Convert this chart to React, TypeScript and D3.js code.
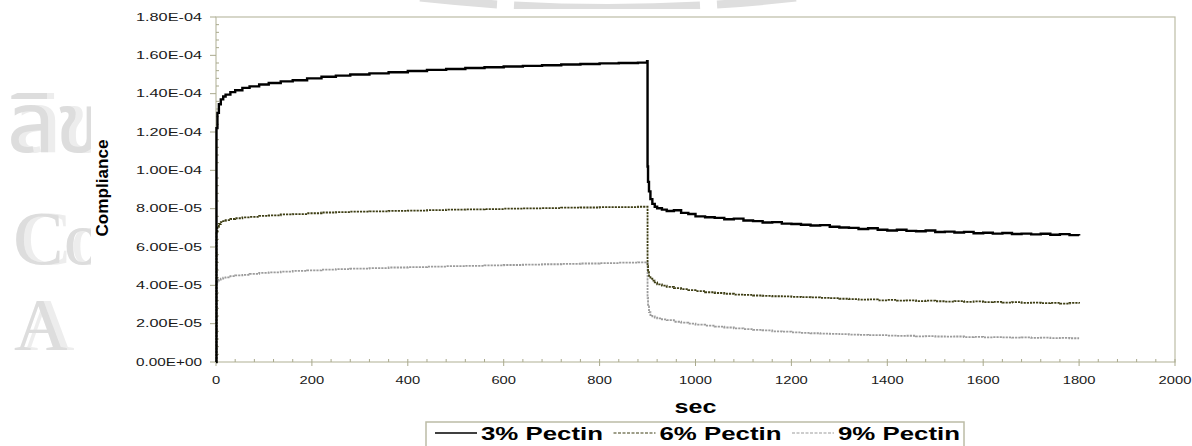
import React from 'react';
import * as d3 from 'd3';

// ---- data (values in units of 1e-5) ----
const VALUE_UNIT = 1e-5;
const TIMES = [
  0, 1, 3, 6, 10, 15, 20, 30, 40, 55, 70, 90, 110, 135, 160, 190, 220, 250, 280, 320,
  360, 400, 440, 480, 520, 560, 600, 640, 680, 720, 760, 800, 840, 880, 899,
  900, 901, 903, 906, 910, 915, 920, 930, 940, 955, 970, 985, 1000,
  1020, 1040, 1060, 1080, 1100, 1120, 1140, 1160, 1180, 1200, 1220, 1240, 1260, 1280, 1300,
  1320, 1340, 1360, 1380, 1400, 1420, 1440, 1460, 1480, 1500, 1520, 1540, 1560, 1580, 1600,
  1620, 1640, 1660, 1680, 1700, 1720, 1740, 1760, 1780, 1800,
];
const PECTIN_3 = [
  0, 12.2, 13.0, 13.45, 13.7, 13.85, 13.95, 14.08, 14.18, 14.3,
  14.38, 14.48, 14.56, 14.64, 14.7, 14.8, 14.88, 14.94, 15.0, 15.06,
  15.12, 15.18, 15.24, 15.29, 15.34, 15.38, 15.42, 15.45, 15.48, 15.52,
  15.55, 15.58, 15.6, 15.62, 15.7,
  10.2, 9.4, 8.9, 8.5, 8.25, 8.1, 8.02, 7.95, 7.88, 7.92, 7.78, 7.72, 7.6,
  7.55, 7.52, 7.45, 7.48, 7.38, 7.35, 7.28, 7.3, 7.22, 7.2,
  7.16, 7.12, 7.14, 7.06, 7.02, 7.0, 6.94, 6.98, 6.9, 6.86,
  6.9, 6.84, 6.82, 6.86, 6.78, 6.8, 6.76, 6.79, 6.72, 6.74,
  6.7, 6.73, 6.68, 6.7, 6.66, 6.69, 6.64, 6.67, 6.62, 6.6,
];
const PECTIN_6 = [
  0, 6.8, 7.05, 7.2, 7.3, 7.35, 7.4, 7.46, 7.5, 7.55,
  7.57, 7.62, 7.65, 7.7, 7.72, 7.76, 7.8, 7.82, 7.85, 7.86,
  7.88, 7.9, 7.92, 7.95, 7.96, 7.98, 8.0, 8.02, 8.03, 8.05,
  8.06, 8.08, 8.08, 8.1, 8.1,
  5.0, 4.75, 4.5, 4.35, 4.25, 4.15, 4.05, 3.98, 3.92, 3.85, 3.8, 3.75, 3.7,
  3.64, 3.6, 3.56, 3.52, 3.5, 3.47, 3.45, 3.43, 3.42, 3.4,
  3.38, 3.37, 3.35, 3.33, 3.3, 3.28, 3.25, 3.27, 3.22, 3.24,
  3.2, 3.22, 3.18, 3.2, 3.17, 3.15, 3.18, 3.14, 3.16, 3.12,
  3.14, 3.1, 3.12, 3.08, 3.1, 3.07, 3.09, 3.05, 3.08, 3.05,
];
const PECTIN_9 = [
  0, 4.15, 4.25, 4.3, 4.35, 4.4, 4.42, 4.48, 4.52, 4.55,
  4.6, 4.65, 4.68, 4.72, 4.75, 4.78, 4.82, 4.85, 4.87, 4.9,
  4.93, 4.95, 4.98, 5.0, 5.02, 5.04, 5.06, 5.08, 5.1, 5.12,
  5.14, 5.16, 5.18, 5.2, 5.2,
  3.35, 2.9, 2.6, 2.45, 2.38, 2.32, 2.28, 2.22, 2.18, 2.1, 2.05, 2.0, 1.95,
  1.9, 1.85, 1.8, 1.75, 1.72, 1.68, 1.65, 1.6, 1.58, 1.55,
  1.52, 1.5, 1.48, 1.47, 1.45, 1.43, 1.42, 1.4, 1.4, 1.38,
  1.36, 1.37, 1.34, 1.35, 1.33, 1.32, 1.33, 1.3, 1.31, 1.29,
  1.3, 1.28, 1.27, 1.28, 1.26, 1.27, 1.25, 1.26, 1.24, 1.24,
];
const SERIES_NAMES = ['3% Pectin', '6% Pectin', '9% Pectin'];
const Y_TICKS = [0, 2e-5, 4e-5, 6e-5, 8e-5, 1e-4, 1.2e-4, 1.4e-4, 1.6e-4, 1.8e-4];
const X_TICKS = [0, 200, 400, 600, 800, 1000, 1200, 1400, 1600, 1800, 2000];
const X_LABEL = 'sec';
const Y_LABEL = 'Compliance';
const WATERMARK_LINES = ['ลิข', 'Co', 'A'];

// ---- styles ----
const W = 1192;
const H = 446;
const M = { left: 216, right: 1175, top: 17, bottom: 362 };
const FRAME = '#bcbca6';
const TICK = '#a9a98c';
const STYLES = [
  { color: '#000000', width: 2.4, dash: undefined as string | undefined },
  { color: '#3e3e14', width: 1.8, dash: '2.2 1' },
  { color: '#9c9c9c', width: 1.8, dash: '2.2 1' },
];
const FONT = '"Liberation Sans", Arial, sans-serif';

function fmtSci(v: number): string {
  if (v === 0) return '0.00E+00';
  const e = Math.floor(Math.log10(v) + 1e-9);
  const m = v / Math.pow(10, e);
  return m.toFixed(2) + 'E' + (e < 0 ? '-' : '+') + String(Math.abs(e)).padStart(2, '0');
}

// decorative watermark ring (bottom arc of a large circle)
function ringArc(x1: number, x2: number): string {
  const cx = 608, cy = -1700, r = 1708;
  const yAt = (xx: number) => cy + Math.sqrt(r * r - (xx - cx) * (xx - cx));
  return `M${x1},${yAt(x1)} A${r},${r} 0 0 0 ${x2},${yAt(x2)}`;
}

export default function App() {
  const x = d3.scaleLinear().domain([0, 2000]).range([M.left, M.right]);
  const y = d3.scaleLinear().domain([0, 1.8e-4]).range([M.bottom, M.top]);
  const seriesVals = [PECTIN_3, PECTIN_6, PECTIN_9];
  const line = d3
    .line<[number, number]>()
    .x((d) => x(d[0]))
    .y((d) => y(d[1]))
    .curve(d3.curveStepAfter);

  const xMinor = d3.range(0, 2000, 40).filter((t) => t % 200 !== 0);
  const yMinor = d3.range(0, 45).map((i) => i * 4e-6).filter((_, i) => i % 5 !== 0);

  const legendX0 = 435;
  const legendStep = 178.5;

  const wmPos = [
    { x: 7, y: 152, size: 84, family: '"Noto Sans Thai", "DejaVu Sans", sans-serif' },
    { x: 13, y: 264, size: 76, family: '"Liberation Serif", serif' },
    { x: 14, y: 350, size: 74, family: '"Liberation Serif", serif' },
  ];

  return (
    <svg
      width={W}
      height={H}
      style={{ position: 'absolute', left: 0, top: 0, background: '#fff' }}
    >
      <defs>
        <clipPath id="wm">
          <rect x={0} y={0} width={91} height={H} />
          <rect x={0} y={0} width={W} height={9} />
        </clipPath>
        <filter id="wmShadow" x="-20%" y="-20%" width="160%" height="140%">
          <feOffset in="SourceAlpha" dx={7} dy={0} result="off" />
          <feFlood floodColor="#ededed" result="fl" />
          <feComposite in="fl" in2="off" operator="in" result="sh" />
          <feMerge>
            <feMergeNode in="sh" />
            <feMergeNode in="SourceGraphic" />
          </feMerge>
        </filter>
      </defs>
      {/* watermark */}
      <g clipPath="url(#wm)">
        {[[420, 497], [514, 700], [717, 796]].map(([a, b]) => (
          <path key={'ring' + a} d={ringArc(a, b)} fill="none" stroke="#dedede" strokeWidth={8} />
        ))}
        {WATERMARK_LINES.map((s, i) => (
          <text
            key={'wm' + i}
            filter="url(#wmShadow)"
            fill="#dddddd"
            x={wmPos[i].x}
            y={wmPos[i].y}
            fontSize={wmPos[i].size}
            fontFamily={wmPos[i].family}
          >
            {s}
          </text>
        ))}
      </g>

      {/* frame */}
      <rect
        x={M.left}
        y={M.top}
        width={M.right - M.left}
        height={M.bottom - M.top}
        fill="none"
        stroke={FRAME}
        strokeWidth={1.2}
      />

      {/* y ticks */}
      {Y_TICKS.map((v) => (
        <g key={'y' + v}>
          <line x1={M.left - 6} x2={M.left} y1={y(v)} y2={y(v)} stroke={TICK} strokeWidth={1} />
          <text
            x={202}
            y={y(v) + 3.8}
            textAnchor="end"
            fontFamily={FONT}
            fontSize={10.5}
            fill="#1a1a1a"
            textLength={66}
            lengthAdjust="spacingAndGlyphs"
          >
            {fmtSci(v)}
          </text>
        </g>
      ))}
      {yMinor.map((v) => (
        <line key={'ym' + v} x1={M.left} x2={M.left + 3} y1={y(v)} y2={y(v)} stroke={TICK} strokeWidth={1} />
      ))}

      {/* x ticks */}
      {X_TICKS.map((t) => (
        <g key={'x' + t}>
          <line x1={x(t)} x2={x(t)} y1={M.bottom - 3} y2={M.bottom + 4} stroke={TICK} strokeWidth={1} />
          <text
            x={x(t)}
            y={384}
            textAnchor="middle"
            fontFamily={FONT}
            fontSize={10.5}
            fill="#1a1a1a"
            textLength={String(t).length * 8.2}
            lengthAdjust="spacingAndGlyphs"
          >
            {t}
          </text>
        </g>
      ))}
      {xMinor.map((t) => (
        <line key={'xm' + t} x1={x(t)} x2={x(t)} y1={M.bottom - 3} y2={M.bottom} stroke={TICK} strokeWidth={1} />
      ))}

      {/* series */}
      {seriesVals.map((vals, i) => {
        const pts: [number, number][] = TIMES.map((t, k) => [t, vals[k] * VALUE_UNIT]);
        const s = STYLES[i];
        return (
          <path
            key={SERIES_NAMES[i]}
            d={line(pts) || ''}
            fill="none"
            stroke={s.color}
            strokeWidth={s.width}
            strokeDasharray={s.dash}
          />
        );
      }).reverse()}

      {/* axis titles */}
      <text
        x={(M.left + M.right) / 2}
        y={413}
        textAnchor="middle"
        fontFamily={FONT}
        fontWeight="bold"
        fontSize={18}
        fill="#000"
        textLength={42}
        lengthAdjust="spacingAndGlyphs"
      >
        {X_LABEL}
      </text>
      <text
        transform={`translate(108, 188) rotate(-90)`}
        textAnchor="middle"
        fontFamily={FONT}
        fontWeight="bold"
        fontSize={17}
        fill="#000"
        textLength={97}
        lengthAdjust="spacingAndGlyphs"
      >
        {Y_LABEL}
      </text>

      {/* legend */}
      <rect x={426} y={422} width={538} height={40} fill="#fff" stroke={FRAME} strokeWidth={1.5} />
      {SERIES_NAMES.map((name, i) => {
        const lx = legendX0 + i * legendStep;
        const s = STYLES[i];
        return (
          <g key={'lg' + name}>
            <line
              x1={lx}
              x2={lx + 42}
              y1={433}
              y2={433}
              stroke={s.color}
              strokeWidth={i === 0 ? 1.5 : 1.2}
              strokeDasharray={s.dash ? '3 1.5' : undefined}
            />
            <text
              x={lx + 46}
              y={440}
              fontFamily={FONT}
              fontWeight="bold"
              fontSize={18}
              fill="#000"
              textLength={122}
              lengthAdjust="spacingAndGlyphs"
            >
              {name}
            </text>
          </g>
        );
      })}
    </svg>
  );
}
